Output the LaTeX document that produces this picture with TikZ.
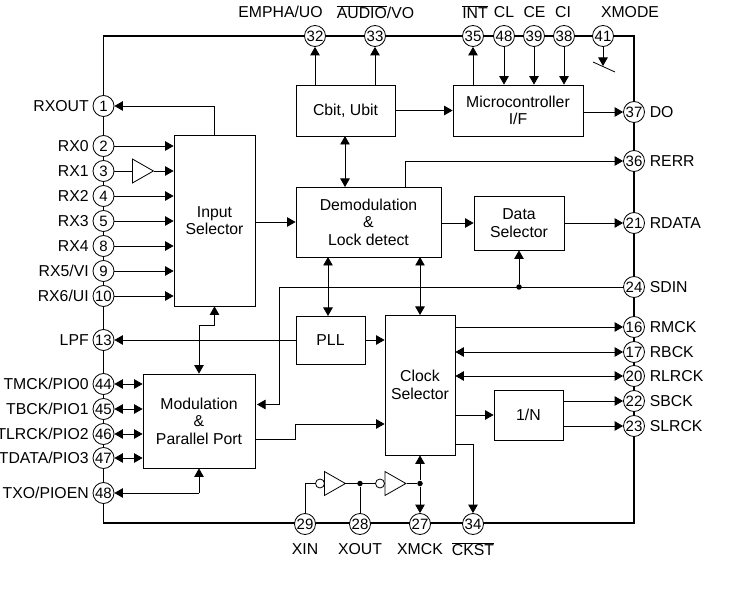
\documentclass[tikz,border=0pt]{standalone}
\usepackage{fontspec}
\setmainfont{Liberation Sans}
\usetikzlibrary{arrows.meta,shapes.geometric}
\tikzset{
  pinc/.style={circle,draw,fill=white,line width=0.8pt,minimum size=21pt,inner sep=0pt,font=\fontsize{15}{15}\selectfont},
  lbl/.style={inner sep=0pt,font=\fontsize{15.8}{17}\selectfont},
  blk/.style={draw,line width=0.8pt,align=center,inner sep=0pt,font=\fontsize{15.8}{17.6}\selectfont},
  buf/.style={isosceles triangle,isosceles triangle stretches,draw,fill=white,line width=0.8pt,minimum width=24pt,minimum height=21pt,inner sep=0pt,anchor=west},
  bub/.style={circle,draw,fill=white,line width=0.8pt,minimum size=9pt,inner sep=0pt},
  dot/.style={circle,fill,minimum size=5.5pt,inner sep=0pt}
}
\begin{document}
\begin{tikzpicture}[x=1pt,y=-1pt,>={Triangle[length=8.5pt,width=9.5pt]},line width=0.8pt]
\useasboundingbox (0,0) rectangle (753,596);
\draw[line width=1.1pt] (103.5,36) rectangle (634,523);

\node[blk,minimum width=81pt,minimum height=171pt] (inp) at (214.5,220.5) {Input\\Selector};
\node[blk,minimum width=99pt,minimum height=51pt] (cbit) at (345.5,110.5) {Cbit, Ubit};
\node[blk,minimum width=130pt,minimum height=51pt] (mcu) at (518,110.5) {Microcontroller\\I/F};
\node[blk,minimum width=145pt,minimum height=70pt] (dem) at (368.5,222) {Demodulation\\\&\\Lock detect};
\node[blk,minimum width=90pt,minimum height=54pt] (dsel) at (519,223) {Data\\Selector};
\node[blk,minimum width=69pt,minimum height=48pt] (pll) at (330.5,340) {PLL};
\node[blk,minimum width=70pt,minimum height=140pt] (clk) at (420,385) {Clock\\Selector};
\node[blk,minimum width=69pt,minimum height=50pt] (div) at (528.5,415) {1/N};
\node[blk,minimum width=112pt,minimum height=94pt] (mod) at (199,421) {Modulation\\\&\\Parallel Port};

\foreach \n/\y/\t in {1/106/RXOUT,2/146/RX0,3/171/RX1,4/196/RX2,5/221/RX3,8/246/RX4,9/271/{RX5/VI},10/296/{RX6/UI},13/340/LPF,44/384/{TMCK/PIO0},45/409/{TBCK/PIO1},46/434/{TLRCK/PIO2},47/458/{TDATA/PIO3},48/493/{TXO/PIOEN}}
  {\node[pinc] (l\n) at (103.5,\y) {\n};
   \node[lbl,anchor=east] (ll\n) at ([xshift=-3.5pt]l\n.west) {\t};}
\foreach \n/\y/\t in {37/112/DO,36/161/RERR,21/223/RDATA,24/287/SDIN,16/327/RMCK,17/352/RBCK,20/376/RLRCK,22/401/SBCK,23/426/SLRCK}
  {\node[pinc] (r\n) at (634,\y) {\n};
   \node[lbl,anchor=west] (rl\n) at ([xshift=4.5pt]r\n.east) {\t};}
\foreach \n/\x in {32/315,33/375,35/473,48/504,39/534,38/564,41/603}
  {\node[pinc] (t\n) at (\x,36) {\n};}
\foreach \n/\x in {29/305,28/360,27/420,34/473}
  {\node[pinc] (b\n) at (\x,524) {\n};}

\node[lbl] (tl32) at (280.5,12) {EMPHA/UO};
\node[lbl] (tl33) at (375.5,12) {$\overline{\mbox{AUDIO}}$/VO};
\node[lbl] (tl35) at (475,12) {$\overline{\mbox{INT}}$};
\node[lbl] (tl48) at (504,12) {CL};
\node[lbl] (tl39) at (534.5,12) {CE};
\node[lbl] (tl38) at (563,12) {CI};
\node[lbl] (tl41) at (630,12) {XMODE};
\node[lbl] (bl29) at (305,549) {XIN};
\node[lbl] (bl28) at (360,549) {XOUT};
\node[lbl] (bl27) at (420,549) {XMCK};
\node[lbl] (bl34) at (473,549) {$\overline{\mbox{CKST}}$};

\node[buf] (rxb) at (132,171) {};
\node[buf] (inva) at (324,483.5) {};
\node[buf] (invb) at (384.5,483.5) {};
\node[bub] (buba) at (320,483.5) {};
\node[bub] (bubb) at (380,483.5) {};
\node[dot] (xo) at (360,483.5) {};
\node[dot] (xm) at (420,483.5) {};
\node[dot] (sd) at (519,287) {};
\coordinate (modin) at (257,404.5);
\coordinate (sdc) at (279,287);
\coordinate (selm) at (199,325);
\coordinate (mout) at (295,439);
\coordinate (msel) at (295,424);
\coordinate (ckc) at (473,444);
\coordinate (xk) at (603,66);
\coordinate (ska) at (593,62);
\coordinate (skb) at (615,72);

\path
(l2.east)   edge[->]  (l2.east -| inp.west)
(rxb.east)  edge[->]  (rxb.east -| inp.west)
(l3.east)   edge      (rxb.west)
(l4.east)   edge[->]  (l4.east -| inp.west)
(l5.east)   edge[->]  (l5.east -| inp.west)
(l8.east)   edge[->]  (l8.east -| inp.west)
(l9.east)   edge[->]  (l9.east -| inp.west)
(l10.east)  edge[->]  (l10.east -| inp.west)
(l44.east)  edge[<->] (l44.east -| mod.west)
(l45.east)  edge[<->] (l45.east -| mod.west)
(l46.east)  edge[<->] (l46.east -| mod.west)
(l47.east)  edge[<->] (l47.east -| mod.west)
(pll.west)  edge[->]  (l13.east)
(pll.east)  edge[->]  (pll.east -| clk.west)
(inp.east |- dem.west) edge[->] (dem.west)
(cbit.east) edge[->]  (mcu.west)
(mcu.east |- r37.west) edge[->] (r37.west)
(dem.east |- dsel.west) edge[->] (dsel.west)
(dsel.east) edge[->]  (r21.west)
(t32 |- cbit.north) edge[->] (t32.south)
(t33 |- cbit.north) edge[->] (t33.south)
(t35 |- mcu.north)  edge[->] (t35.south)
(t48.south) edge[->]  (t48 |- mcu.north)
(t39.south) edge[->]  (t39 |- mcu.north)
(t38.south) edge[->]  (t38 |- mcu.north)
(t41.south) edge[->]  (xk)
(ska)       edge      (skb)
(345,136)   edge[<->] (345,187)
(328,257)   edge[<->] (328,316)
(420,257)   edge[<->] (420,315)
(r24.west)  edge      (sdc)
(sd)        edge[->]  (sd |- dsel.south)
(clk.east |- r16.west) edge[->] (r16.west)
(clk.east |- r17.west) edge[<->] (r17.west)
(clk.east |- r20.west) edge[<->] (r20.west)
(clk.east |- div.west) edge[->] (div.west)
(div.east |- r22.west) edge[->] (r22.west)
(div.east |- r23.west) edge[->] (r23.west)
(xm)        edge[->]  (xm |- clk.south)
(xm)        edge[->]  (b27.north)
(xo)        edge      (b28.north)
(inva.east) edge      (bubb.west)
(invb.east) edge      (xm);

\draw[->] (inp.north) |- (l1.east);
\draw[<->] (inp.south) |- (selm) -- (mod.north);
\draw[->] (l48.east -| mod.south) -- (mod.south);
\draw[<-] (l48.east) -- (l48.east -| mod.south);
\draw[->] (sdc) |- (modin);
\draw[->] (mout -| mod.east) -- (mout) -- (msel) -- (msel -| clk.west);
\draw[->] (ckc -| clk.east) -- (ckc) -- (b34.north);
\draw[->] (405,187) |- (r36.west);
\draw (b29.north) |- (buba.west);
\end{tikzpicture}
\end{document}
